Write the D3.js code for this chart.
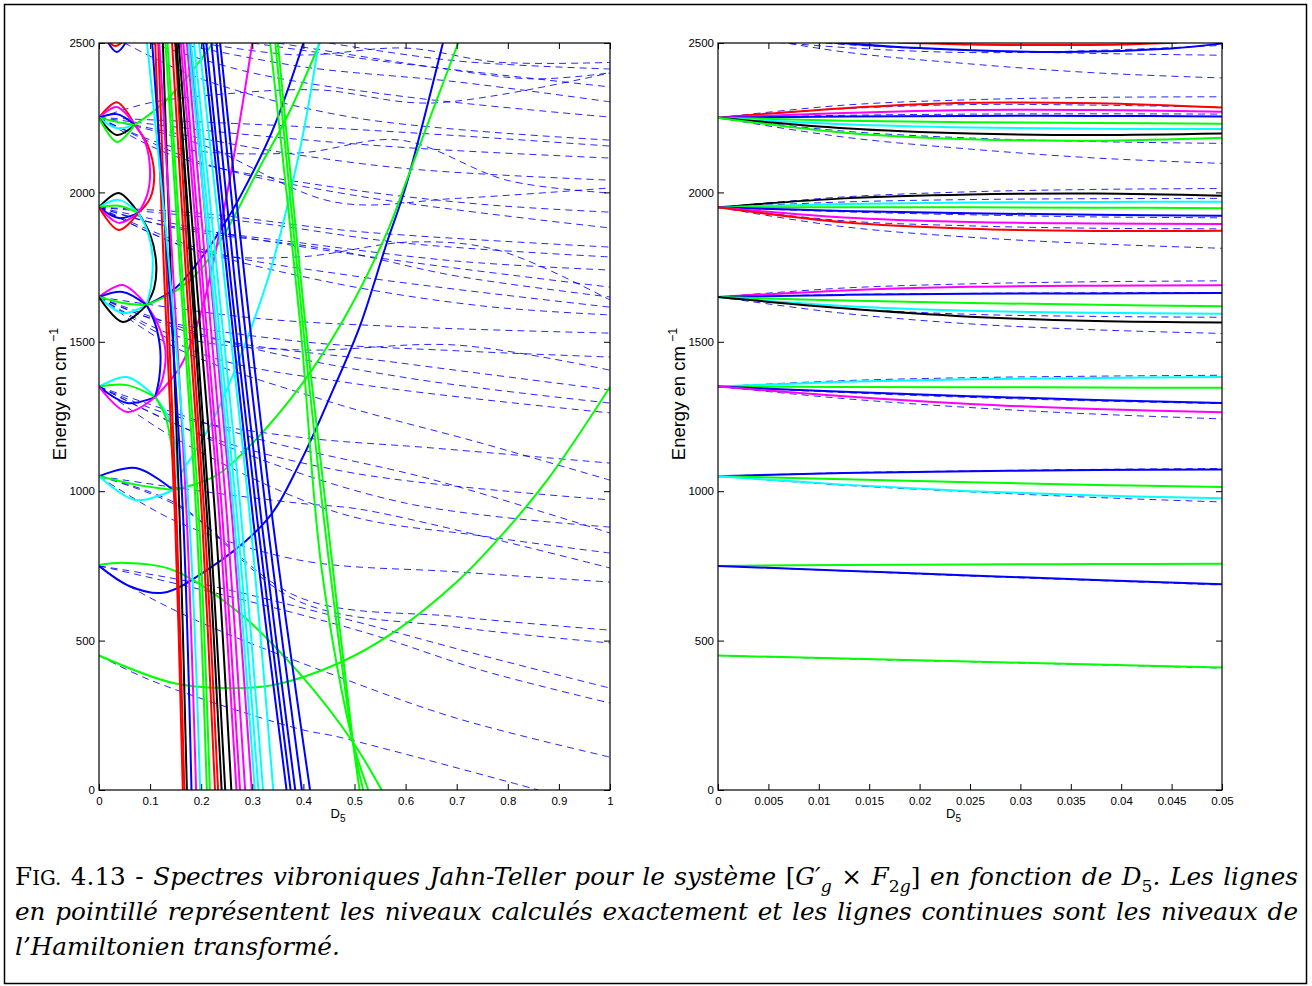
<!DOCTYPE html>
<html>
<head>
<meta charset="utf-8">
<script src="https://cdn.jsdelivr.net/npm/d3@7"></script>
<style>
  body { margin: 0; background: #fff; }
  svg { display: block; }
</style>
</head>
<body>
<script>
// Jahn-Teller vibronic spectra, [G'g x F2g] vs D5 -- two panels + caption

// ---------- data ----------
const yTicks = [0, 500, 1000, 1500, 2000, 2500];
const leftXTicks = [0, 0.1, 0.2, 0.3, 0.4, 0.5, 0.6, 0.7, 0.8, 0.9, 1];
const leftXLabels = ["0", "0.1", "0.2", "0.3", "0.4", "0.5", "0.6", "0.7", "0.8", "0.9", "1"];
const rightXTicks = [0, 0.005, 0.01, 0.015, 0.02, 0.025, 0.03, 0.035, 0.04, 0.045, 0.05];
const rightXLabels = ["0", "0.005", "0.01", "0.015", "0.02", "0.025", "0.03", "0.035", "0.04", "0.045", "0.05"];

// left panel: loops at D5 = 0 -> [colour, E0, peak energy, convergence D5, convergence energy]
const leftLoops = [
  ["red", 2250, 2302, 0.07, 2226], ["magenta", 2250, 2286, 0.07, 2226], ["blue", 2250, 2262, 0.07, 2226],
  ["green", 2250, 2236, 0.07, 2226], ["cyan", 2250, 2215, 0.07, 2226], ["black", 2250, 2192, 0.07, 2226],
  ["green", 2250, 2169, 0.07, 2226],
  ["black", 1950, 1998, 0.077, 1931], ["cyan", 1950, 1975, 0.077, 1931], ["green", 1950, 1955, 0.077, 1931],
  ["blue", 1950, 1914, 0.077, 1931], ["magenta", 1950, 1898, 0.077, 1931], ["red", 1950, 1874, 0.077, 1931],
  ["magenta", 1650, 1690, 0.093, 1623], ["blue", 1650, 1667, 0.093, 1623], ["green", 1650, 1630, 0.093, 1623],
  ["cyan", 1650, 1596, 0.093, 1623], ["black", 1650, 1566, 0.093, 1623],
  ["cyan", 1350, 1382, 0.11, 1315], ["green", 1350, 1355, 0.11, 1315], ["blue", 1350, 1295, 0.11, 1315],
  ["magenta", 1350, 1265, 0.11, 1315],
  ["blue", 1050, 1078, 0.145, 1004], ["green", 1050, 1022, 0.145, 1004], ["cyan", 1050, 970, 0.145, 1004],
  ["blue", 2560, 2470, 0.07, 2560], ["red", 2540, 2490, 0.064, 2540]
];

// left panel: arcs joining neighbouring convergence points
const leftBraids = [
  ["red", [[0.07, 2226], [0.095, 2160], [0.108, 2060], [0.1, 1980], [0.077, 1931]]],
  ["magenta", [[0.07, 2226], [0.09, 2170], [0.1, 2070], [0.094, 1990], [0.077, 1931]]],
  ["black", [[0.077, 1931], [0.1, 1860], [0.112, 1760], [0.108, 1680], [0.093, 1623]]],
  ["cyan", [[0.077, 1931], [0.095, 1870], [0.105, 1780], [0.102, 1690], [0.093, 1623]]],
  ["magenta", [[0.093, 1623], [0.115, 1560], [0.13, 1470], [0.125, 1380], [0.11, 1315]]],
  ["blue", [[0.093, 1623], [0.11, 1560], [0.12, 1470], [0.118, 1380], [0.11, 1315]]],
  ["cyan", [[0.11, 1315], [0.135, 1250], [0.15, 1150], [0.152, 1060], [0.145, 1004]]],
  ["green", [[0.11, 1315], [0.13, 1250], [0.142, 1150], [0.147, 1060], [0.145, 1004]]]
];

// left panel: steep levels -> D5 where each crosses these energies
const steepEnergies = [2500, 1700, 900, 0];
const leftSteep = [
  ["red", 0.110, 0.128, 0.149, 0.164], ["red", 0.116, 0.133, 0.152, 0.167],
  ["black", 0.125, 0.141, 0.158, 0.172], ["blue", 0.104, 0.137, 0.165, 0.181],
  ["magenta", 0.118, 0.146, 0.172, 0.190], ["cyan", 0.094, 0.140, 0.177, 0.198],
  ["green", 0.130, 0.160, 0.191, 0.211], ["green", 0.134, 0.164, 0.196, 0.217],
  ["red", 0.143, 0.171, 0.202, 0.227], ["red", 0.149, 0.176, 0.207, 0.233],
  ["black", 0.152, 0.181, 0.212, 0.240], ["black", 0.150, 0.184, 0.217, 0.247],
  ["black", 0.156, 0.191, 0.228, 0.259], ["magenta", 0.160, 0.198, 0.236, 0.269],
  ["magenta", 0.165, 0.203, 0.242, 0.276], ["magenta", 0.172, 0.211, 0.251, 0.286],
  ["magenta", 0.178, 0.219, 0.261, 0.299], ["cyan", 0.175, 0.221, 0.265, 0.305],
  ["cyan", 0.180, 0.226, 0.271, 0.312], ["cyan", 0.186, 0.233, 0.279, 0.321],
  ["cyan", 0.196, 0.246, 0.296, 0.341], ["blue", 0.204, 0.252, 0.302, 0.367],
  ["blue", 0.210, 0.258, 0.310, 0.375], ["blue", 0.220, 0.266, 0.318, 0.384],
  ["blue", 0.230, 0.276, 0.329, 0.397], ["blue", 0.237, 0.286, 0.340, 0.413]
];

// left panel: green levels crossing near D5 = 0.5
const fanEnergies = [2500, 1573, 736, 160, 0];
const leftFan = [
  ["green", 0.350, 0.403, 0.458, 0.497, 0.510],
  ["green", 0.345, 0.398, 0.452, 0.497, 0.517],
  ["green", 0.335, 0.393, 0.436, 0.497, 0.527]
];

// left panel: long curves
const leftCurves = [
  ["blue", [[0, 750], [0.06, 682], [0.125, 660], [0.211, 736], [0.328, 903], [0.393, 1094], [0.458, 1339], [0.51, 1550], [0.563, 1830], [0.6, 2018], [0.673, 2500]]],
  ["green", [[0.145, 1004], [0.2, 1030], [0.237, 1061], [0.3, 1160], [0.393, 1349], [0.478, 1573], [0.563, 1864], [0.6, 2030], [0.65, 2260], [0.703, 2500]]],
  ["blue", [[0.093, 1623], [0.15, 1680], [0.2, 1780], [0.24, 1880], [0.276, 1985], [0.34, 2209], [0.4, 2500]]],
  ["green", [[0.093, 1623], [0.15, 1670], [0.198, 1740], [0.25, 1874], [0.31, 2070], [0.37, 2260], [0.432, 2500]]],
  ["cyan", [[0.16, 1060], [0.223, 1238], [0.328, 1697], [0.393, 2142], [0.43, 2500]]],
  ["magenta", [[0.11, 1315], [0.16, 1420], [0.2, 1600], [0.25, 1990], [0.3, 2500]]],
  ["green", [[0.07, 2226], [0.12, 2290], [0.17, 2380], [0.223, 2500]]],
  ["green", [[0, 753], [0.05, 760], [0.145, 736], [0.275, 592], [0.392, 391], [0.497, 160], [0.553, 0]]],
  ["green", [[0, 450], [0.145, 358], [0.243, 341], [0.34, 351], [0.47, 425], [0.583, 535], [0.7, 696], [0.785, 847], [0.877, 1037], [1, 1349]]]
];

// left panel: exact levels (dashed)
const leftDashed = [
  [[0, 450], [0.1, 368], [0.39, 205], [0.47, 177], [0.86, 0]],
  [[0, 750], [0.055, 686], [0.2, 560], [0.47, 378], [0.7, 240], [1, 110]],
  [[0, 750], [0.2, 690], [0.49, 569], [0.75, 450], [1, 341]],
  [[0, 750], [0.25, 650], [0.525, 525], [0.75, 400], [1, 291]],
  [[0, 1050], [0.15, 960], [0.39, 646], [0.7, 580], [1, 535]],
  [[0, 1050], [0.16, 945], [0.39, 632], [0.7, 545], [1, 492]],
  [[0, 1050], [0.15, 900], [0.39, 770], [0.7, 730], [1, 696]],
  [[0, 1050], [0.2, 1000], [0.39, 960], [0.52, 937], [1, 743]],
  [[0, 1350], [0.145, 1181], [0.47, 927], [0.75, 850], [1, 793]],
  [[0, 1350], [0.15, 1250], [0.39, 1181], [0.65, 1145], [1, 1094]],
  [[0, 1350], [0.2, 1190], [0.5, 1060], [1, 971]],
  [[0, 1350], [0.25, 1150], [0.6, 960], [1, 880]],
  [[0, 1350], [0.3, 1180], [0.65, 1040], [1, 860]],
  [[0, 1650], [0.15, 1520], [0.39, 1473], [0.7, 1489], [1, 1405]],
  [[0, 1650], [0.2, 1520], [0.59, 1429], [1, 1339]],
  [[0, 1650], [0.15, 1480], [0.45, 1300], [0.75, 1160], [1, 1037]],
  [[0, 1650], [0.2, 1460], [0.5, 1360], [1, 1262]],
  [[0, 1650], [0.25, 1500], [0.6, 1380], [1, 1295]],
  [[0, 1650], [0.1, 1580], [0.4, 1500], [0.7, 1470], [1, 1449]],
  [[0, 1650], [0.3, 1580], [0.6, 1550], [1, 1529]],
  [[0, 1950], [0.2, 1800], [0.39, 1784], [0.61, 1834], [0.78, 1807], [1, 1640]],
  [[0, 1950], [0.15, 1830], [0.45, 1700], [0.75, 1620], [1, 1590]],
  [[0, 1950], [0.2, 1810], [0.5, 1720], [1, 1616]],
  [[0, 1950], [0.15, 1880], [0.46, 1807], [0.7, 1720], [1, 1650]],
  [[0, 1950], [0.25, 1860], [0.55, 1780], [1, 1683]],
  [[0, 1950], [0.1, 1900], [0.4, 1830], [0.7, 1770], [1, 1740]],
  [[0, 1950], [0.3, 1900], [0.6, 1830], [1, 1784]],
  [[0, 1950], [0.2, 1930], [0.5, 1870], [1, 1817]],
  [[0, 2250], [0.15, 2150], [0.39, 2132], [0.59, 2175], [0.8, 2040], [1, 1998]],
  [[0, 2250], [0.1, 2300], [0.25, 2330], [0.43, 2343], [0.65, 2299], [1, 2400]],
  [[0, 2250], [0.2, 2160], [0.46, 1968], [0.7, 1980], [1, 2015]],
  [[0, 2250], [0.2, 2100], [0.5, 1990], [1, 1881]],
  [[0, 2250], [0.15, 2120], [0.45, 2020], [0.75, 1960], [1, 1934]],
  [[0, 2250], [0.3, 2150], [0.6, 2080], [1, 2041]],
  [[0, 2250], [0.25, 2200], [0.6, 2150], [1, 2115]],
  [[0, 2250], [0.4, 2220], [0.7, 2190], [1, 2155]],
  [[0.05, 2500], [0.2, 2380], [0.5, 2250], [1, 2175]],
  [[0.1, 2500], [0.3, 2400], [0.6, 2320], [1, 2252]],
  [[0.2, 2500], [0.39, 2460], [0.6, 2483], [0.78, 2436], [1, 2435]],
  [[0.15, 2500], [0.4, 2420], [0.7, 2370], [1, 2303]],
  [[0.3, 2500], [0.55, 2440], [1, 2353]],
  [[0.45, 2500], [0.7, 2440], [1, 2413]],
  [[0.35, 2500], [0.65, 2420], [0.85, 2380], [1, 2400]]
];

// right panel: energies at these D5 values
const rightGrid = [0, 0.0125, 0.025, 0.0375, 0.05];
const rightSolid = [
  ["red", [2250, 2282, 2300, 2298, 2284]], ["magenta", [2250, 2266, 2276, 2276, 2270]],
  ["blue", [2250, 2254, 2256, 2256, 2254]], ["green", [2250, 2240, 2235, 2232, 2230]],
  ["cyan", [2250, 2228, 2217, 2213, 2212]], ["black", [2250, 2215, 2197, 2192, 2197]],
  ["green", [2250, 2200, 2178, 2173, 2183]],
  ["black", [1950, 1980, 1993, 1996, 1989]], ["cyan", [1950, 1961, 1966, 1968, 1969]],
  ["green", [1950, 1950, 1950, 1949, 1947]], ["blue", [1950, 1938, 1930, 1925, 1922]],
  ["magenta", [1950, 1916, 1901, 1896, 1894]], ["red", [1950, 1900, 1878, 1871, 1872]],
  ["magenta", [1650, 1672, 1684, 1688, 1689]], ["blue", [1650, 1657, 1661, 1662, 1663]],
  ["green", [1650, 1638, 1630, 1624, 1619]], ["cyan", [1650, 1620, 1604, 1597, 1594]],
  ["black", [1650, 1612, 1584, 1570, 1565]],
  ["cyan", [1350, 1366, 1375, 1379, 1382]], ["green", [1350, 1349, 1348, 1347, 1346]],
  ["blue", [1350, 1333, 1318, 1305, 1295]], ["magenta", [1350, 1318, 1292, 1275, 1264]],
  ["blue", [1050, 1061, 1067, 1071, 1073]], ["green", [1050, 1040, 1030, 1021, 1014]],
  ["cyan", [1050, 1022, 1000, 986, 976]],
  ["green", [750, 753, 755, 756, 757]], ["blue", [750, 734, 718, 703, 689]],
  ["green", [450, 440, 430, 420, 410]]
];
// right panel: the two curves skimming the top edge
const rightTop = [
  ["blue", [[0.0115, 2502], [0.02, 2483], [0.0346, 2470], [0.045, 2482], [0.05, 2498]]],
  ["red", [[0.0178, 2502], [0.025, 2495], [0.032, 2493], [0.04, 2495], [0.0456, 2502]]]
];
const rightDashed = [
  [2530, 2495, 2475, 2465, 2459], [2540, 2470, 2430, 2400, 2383], [2520, 2485, 2468, 2475, 2492],
  [2250, 2292, 2310, 2318, 2320], [2250, 2280, 2294, 2292, 2285], [2250, 2258, 2262, 2263, 2262],
  [2250, 2205, 2182, 2170, 2164], [2250, 2185, 2145, 2115, 2097],
  [1950, 1985, 2002, 2010, 2013], [1950, 1968, 1976, 1979, 1980], [1950, 1935, 1925, 1918, 1915],
  [1950, 1905, 1888, 1880, 1878], [1950, 1885, 1850, 1828, 1813],
  [1650, 1680, 1694, 1701, 1704], [1650, 1658, 1662, 1664, 1665], [1650, 1612, 1592, 1585, 1582],
  [1650, 1595, 1560, 1540, 1528],
  [1350, 1370, 1380, 1385, 1388], [1350, 1330, 1314, 1302, 1293], [1350, 1310, 1280, 1258, 1242],
  [1050, 1062, 1068, 1073, 1076], [1050, 1020, 998, 979, 964],
  [750, 733, 716, 701, 686], [450, 439, 429, 419, 408]
];

const colorOf = {
  red: "#ff0000", green: "#00ff00", blue: "#0000ff",
  cyan: "#00ffff", magenta: "#ff00ff", black: "#000000"
};

// ---------- drawing ----------
const W = 1312, H = 986;
const svg = d3.select("body").append("svg").attr("width", W).attr("height", H);
svg.append("rect").attr("width", W).attr("height", H).attr("fill", "#fff");
svg.append("rect").attr("x", 4.5).attr("y", 4.5).attr("width", 1302).attr("height", 979)
  .attr("fill", "none").attr("stroke", "#000").attr("stroke-width", 1.5);

const defs = svg.append("defs");
const axisFont = "'Liberation Sans', Arial, Helvetica, sans-serif";

function makePanel(id, box, xDomain, ticks, labels) {
  const x = d3.scaleLinear().domain(xDomain).range([box.l, box.r]);
  const y = d3.scaleLinear().domain([0, 2500]).range([box.b, box.t]);

  defs.append("clipPath").attr("id", id)
    .append("rect").attr("x", box.l).attr("y", box.t)
    .attr("width", box.r - box.l).attr("height", box.b - box.t);

  const plot = svg.append("g").attr("clip-path", `url(#${id})`);
  const line = d3.line().x(d => x(d[0])).y(d => y(d[1])).curve(d3.curveCatmullRom.alpha(0.5));

  // axes: ticks inside, mirrored on top and right
  const fmt = (d, i) => labels[i];
  const axG = svg.append("g").attr("font-family", axisFont);
  axG.append("g").attr("transform", `translate(0,${box.b})`)
    .call(d3.axisBottom(x).tickValues(ticks).tickFormat(fmt).tickSizeInner(-6).tickSizeOuter(0).tickPadding(7));
  axG.append("g").attr("transform", `translate(0,${box.t})`)
    .call(d3.axisTop(x).tickValues(ticks).tickFormat("").tickSizeInner(-6).tickSizeOuter(0));
  axG.append("g").attr("transform", `translate(${box.l},0)`)
    .call(d3.axisLeft(y).tickValues(yTicks).tickFormat(d3.format("d")).tickSizeInner(-6).tickSizeOuter(0).tickPadding(4));
  axG.append("g").attr("transform", `translate(${box.r},0)`)
    .call(d3.axisRight(y).tickValues(yTicks).tickFormat("").tickSizeInner(-6).tickSizeOuter(0));
  axG.selectAll(".domain").remove();
  axG.selectAll("text").attr("font-size", 11.5).attr("fill", "#000");
  axG.selectAll(".tick line").attr("stroke", "#000");
  svg.append("rect").attr("x", box.l).attr("y", box.t)
    .attr("width", box.r - box.l).attr("height", box.b - box.t)
    .attr("fill", "none").attr("stroke", "#000").attr("stroke-width", 1.2);

  // axis titles
  const xl = svg.append("text").attr("x", (box.l + box.r) / 2 - 24).attr("y", 818)
    .attr("font-family", axisFont).attr("font-size", 13);
  xl.append("tspan").text("D");
  xl.append("tspan").attr("font-size", 10).attr("dy", 4).text("5");

  const yl = svg.append("text")
    .attr("transform", `translate(${box.l - 33},394) rotate(-90)`)
    .attr("text-anchor", "middle").attr("font-family", axisFont).attr("font-size", 18.5);
  yl.append("tspan").text("Energy en cm");
  yl.append("tspan").attr("font-size", 12.5).attr("dx", 4).attr("dy", -8).text("\u22121");

  return { x, y, plot, line };
}

const L = makePanel("clipL", { l: 99, r: 610, t: 43, b: 790 }, [0, 1], leftXTicks, leftXLabels);
const R = makePanel("clipR", { l: 718, r: 1222, t: 43, b: 790 }, [0, 0.05], rightXTicks, rightXLabels);

function dashed(panel, pts) {
  panel.plot.append("path").attr("d", panel.line(pts))
    .attr("fill", "none").attr("stroke", "#0000ff").attr("stroke-width", 1)
    .attr("stroke-opacity", 0.85).attr("stroke-dasharray", "7,5");
}
function solid(panel, color, pts) {
  panel.plot.append("path").attr("d", panel.line(pts))
    .attr("fill", "none").attr("stroke", colorOf[color]).attr("stroke-width", 2)
    .attr("stroke-linejoin", "round");
}

// left panel
leftDashed.forEach(p => dashed(L, p));
leftLoops.forEach(([c, e0, peak, cx, ce]) => solid(L, c, [[0, e0], [cx / 2, peak], [cx, ce]]));
leftBraids.forEach(([c, p]) => solid(L, c, p));
leftCurves.forEach(([c, p]) => solid(L, c, p));
leftFan.forEach(([c, ...xs]) => solid(L, c, xs.map((v, i) => [v, fanEnergies[i]])));
leftSteep.forEach(([c, ...xs]) => solid(L, c, xs.map((v, i) => [v, steepEnergies[i]])));

// right panel
rightDashed.forEach(es => dashed(R, es.map((e, i) => [rightGrid[i], e])));
rightSolid.forEach(([c, es]) => solid(R, c, es.map((e, i) => [rightGrid[i], e])));
rightTop.forEach(([c, p]) => solid(R, c, p));

// ---------- caption ----------
const capFont = "'DejaVu Serif', 'Liberation Serif', serif";
const capLeft = 15, capRight = 1298;

function capText(y, size, parts) {
  const t = svg.append("text").attr("x", capLeft).attr("y", y)
    .attr("font-family", capFont).attr("font-size", size).attr("fill", "#000");
  let off = 0;
  parts.forEach(p => {
    const target = p.sub ? size * 0.3 : 0;
    const ts = t.append("tspan").text(p.t);
    if (p.it) ts.attr("font-style", "italic");
    if (p.sub) ts.attr("font-size", size * 0.7);
    if (p.small) ts.attr("font-size", size * 0.8);
    if (target !== off) { ts.attr("dy", target - off); off = target; }
  });
  return t;
}

// size the font so the short last line matches the reference width
const probe = capText(955, 20, [{ t: "l\u2019Hamiltonien transformé.", it: true }]);
const fs = 20 * 325 / probe.node().getComputedTextLength();
probe.remove();

const line1 = [
  { t: "F" }, { t: "IG.", small: true }, { t: " 4.13 - " },
  { t: "Spectres vibroniques Jahn-Teller pour le système ", it: true },
  { t: "[" }, { t: "G\u2032", it: true }, { t: "g", it: true, sub: true },
  { t: " × " }, { t: "F", it: true }, { t: "2", sub: true }, { t: "g", it: true, sub: true },
  { t: "]" }, { t: " en fonction de ", it: true }, { t: "D", it: true }, { t: "5", sub: true },
  { t: ". Les lignes", it: true }
];
const line2 = [{ t: "en pointillé représentent les niveaux calculés exactement et les lignes continues sont les niveaux de", it: true }];
const line3 = [{ t: "l\u2019Hamiltonien transformé.", it: true }];

[[885, line1], [920, line2]].forEach(([y, parts]) => {
  const t = capText(y, fs, parts);
  const w = t.node().getComputedTextLength();
  const gaps = (t.text().match(/ /g) || []).length;
  t.style("word-spacing", ((capRight - capLeft - w) / gaps) + "px");
});
capText(955, fs, line3);
</script>
</body>
</html>
